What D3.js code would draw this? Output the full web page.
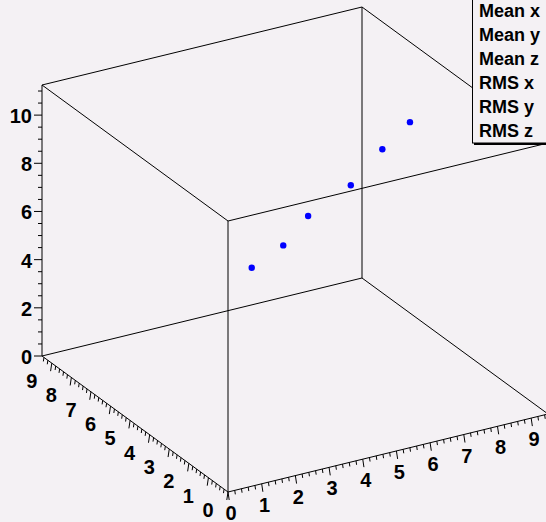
<!DOCTYPE html>
<html>
<head>
<meta charset="utf-8">
<script src="https://cdn.jsdelivr.net/npm/d3@7"></script>
<style>
html,body{margin:0;padding:0;background:#f4f1f4;overflow:hidden;}
svg{display:block;}
text{font-family:"Liberation Sans",Arial,Helvetica,sans-serif;font-weight:bold;fill:#000;}
</style>
</head>
<body>
<script>
// ---- data ----
const xVals = [3, 4, 5, 6, 7, 8];
const yVals = [3.95, 4.06, 4.51, 4.05, 4.16, 4.47];
const zVals = [5.94, 6.46, 7.07, 8.28, 9.37, 9.97];
const xTickLabels = ["0","1","2","3","4","5","6","7","8","9"];
const yTickLabels = ["0","1","2","3","4","5","6","7","8","9"];
const zTickLabels = ["0","2","4","6","8","10"];
const statLabels = ["Mean x","Mean y","Mean z","RMS x","RMS y","RMS z"];

const W = 546, H = 522;
const svg = d3.select("body").append("svg").attr("width", W).attr("height", H);
svg.append("rect").attr("width", W).attr("height", H).attr("fill", "#f4f1f4");

// projection geometry
const O = [228, 492];
const VX = [320, -78];
const VY = [-186, -136];
const HZ = 271;
const sx = d3.scaleLinear().domain([0, 9.5]).range([0, 1]);
const sy = d3.scaleLinear().domain([0, 9.5]).range([0, 1]);
const sz = d3.scaleLinear().domain([0, 11.25]).range([0, 1]);
function P(x, y, z) {
  const a = sx(x), b = sy(y), c = sz(z);
  return [O[0] + a * VX[0] + b * VY[0], O[1] + a * VX[1] + b * VY[1] - c * HZ];
}
const [x0, x1] = sx.domain(), [y0, y1] = sy.domain(), [z0, z1] = sz.domain();

// box edges
const edges = [
  [[x0,y0,z0],[x1,y0,z0]], [[x0,y0,z0],[x0,y1,z0]], [[x1,y0,z0],[x1,y1,z0]], [[x0,y1,z0],[x1,y1,z0]],
  [[x0,y0,z1],[x1,y0,z1]], [[x0,y0,z1],[x0,y1,z1]], [[x1,y0,z1],[x1,y1,z1]], [[x0,y1,z1],[x1,y1,z1]],
  [[x0,y0,z0],[x0,y0,z1]], [[x1,y0,z0],[x1,y0,z1]], [[x0,y1,z0],[x0,y1,z1]], [[x1,y1,z0],[x1,y1,z1]]
];
const g = svg.append("g");
edges.forEach(e => {
  const a = P(...e[0]), b = P(...e[1]);
  g.append("line").attr("x1", a[0]).attr("y1", a[1]).attr("x2", b[0]).attr("y2", b[1])
    .attr("stroke", "#000").attr("stroke-width", 1);
});

// x axis ticks
const xMinor = d3.range(0, 9.5 + 1e-9, 0.2);
xMinor.forEach(v => {
  const p = P(v, y0, z0);
  const major = Math.abs(v - Math.round(v)) < 1e-6;
  const L = major ? 8 : 4;
  g.append("line").attr("x1", p[0]).attr("y1", p[1]).attr("x2", p[0] + 0.15 * L).attr("y2", p[1] + L)
    .attr("stroke", "#000").attr("stroke-width", 1);
});
sx.ticks(10).forEach((v, i) => {
  if (i >= xTickLabels.length) return;
  const p = P(v, y0, z0);
  g.append("text").attr("x", p[0] + 3).attr("y", p[1] + 21).attr("text-anchor", "middle")
    .attr("dominant-baseline", "central").attr("font-size", 20).text(xTickLabels[i]);
});

// y axis ticks
const yMinor = d3.range(0, 9.5 + 1e-9, 0.2);
yMinor.forEach(v => {
  const p = P(x0, v, z0);
  const major = Math.abs(v - Math.round(v)) < 1e-6;
  const L = major ? 8 : 4;
  g.append("line").attr("x1", p[0]).attr("y1", p[1]).attr("x2", p[0] - 0.15 * L).attr("y2", p[1] + L)
    .attr("stroke", "#000").attr("stroke-width", 1);
});
sy.ticks(10).forEach((v, i) => {
  if (i >= yTickLabels.length) return;
  const p = P(x0, v, z0);
  g.append("text").attr("x", p[0] - 20).attr("y", p[1] + 18).attr("text-anchor", "middle")
    .attr("dominant-baseline", "central").attr("font-size", 20).text(yTickLabels[i]);
});

// z axis ticks (on left back vertical edge)
const zMinor = d3.range(0, 11.25 + 1e-9, 0.5);
zMinor.forEach(v => {
  const p = P(x0, y1, v);
  const major = Math.abs(v / 2 - Math.round(v / 2)) < 1e-6;
  const L = major ? 8 : 4;
  g.append("line").attr("x1", p[0]).attr("y1", p[1]).attr("x2", p[0] - L).attr("y2", p[1])
    .attr("stroke", "#000").attr("stroke-width", 1);
});
sz.ticks(6).filter(v => v % 2 === 0).forEach((v, i) => {
  if (i >= zTickLabels.length) return;
  const p = P(x0, y1, v);
  g.append("text").attr("x", p[0] - 10).attr("y", p[1] + 1).attr("text-anchor", "end")
    .attr("dominant-baseline", "central").attr("font-size", 20).text(zTickLabels[i]);
});

// points
xVals.forEach((x, i) => {
  const p = P(x, yVals[i], zVals[i]);
  g.append("circle").attr("cx", p[0]).attr("cy", p[1]).attr("r", 3.2).attr("fill", "#0000ff");
});

// stats box
const sb = svg.append("g");
sb.append("rect").attr("x", 474).attr("y", -60).attr("width", 100).attr("height", 205).attr("fill", "#000");
sb.append("rect").attr("x", 472.5).attr("y", -60).attr("width", 100).attr("height", 203)
  .attr("fill", "#f4f1f4").attr("stroke", "#000").attr("stroke-width", 1);
statLabels.forEach((s, i) => {
  sb.append("text").attr("x", 479).attr("y", 17 + i * 24).attr("font-size", 18).text(s);
});
</script>
</body>
</html>
